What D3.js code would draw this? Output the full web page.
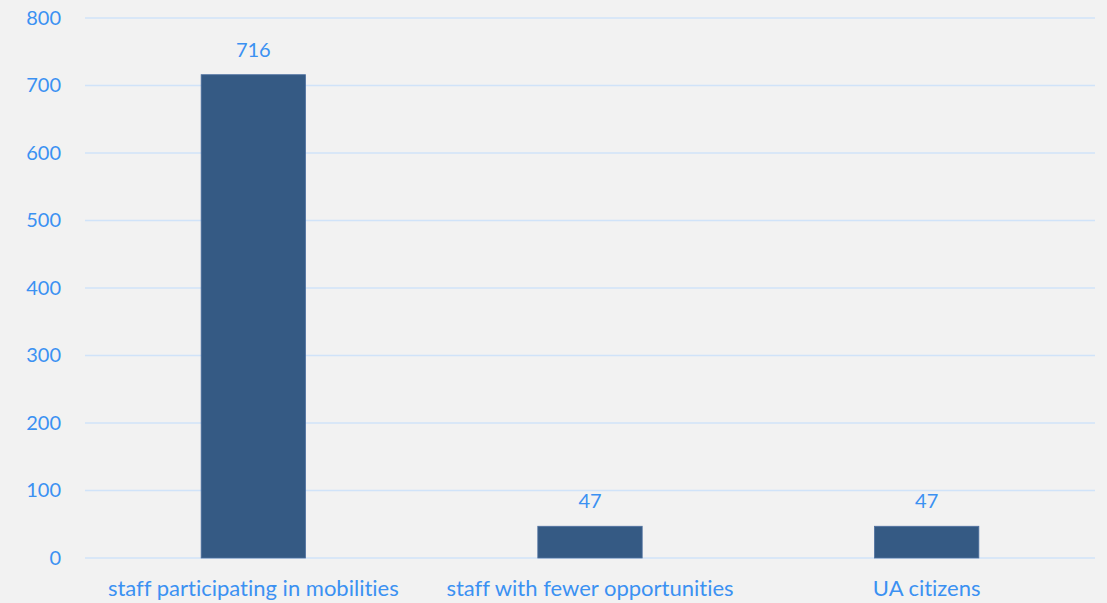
<!DOCTYPE html>
<html><head><meta charset="utf-8">
<script src="https://cdn.jsdelivr.net/npm/d3@7"></script>
<style>
html,body{margin:0;padding:0;background:#f2f2f2;}
svg{display:block;}
text{font-family:Lato,"Open Sans",sans-serif;font-variant-ligatures:none;font-feature-settings:"liga" 0,"clig" 0;}
</style></head>
<body>
<svg id="c" width="1107" height="603"></svg>
<script>
const categories = ["staff participating in mobilities","staff with fewer opportunities","UA citizens"];
const values = [716, 47, 47];
const yTicks = [0,100,200,300,400,500,600,700,800];

const W = 1107, H = 603;
const m = {left:85, right:12, top:18, bottom:45};
const svg = d3.select("#c");
svg.append("rect").attr("width",W).attr("height",H).attr("fill","#f2f2f2");

const x = d3.scaleBand().domain(categories).range([m.left, W-m.right]).padding(0);
const y = d3.scaleLinear().domain([0,800]).range([H-m.bottom, m.top]);
const barFrac = 0.31;
const textColor = "#3b91f2";

const g = svg.append("g");
g.selectAll("line.grid").data(yTicks).enter().append("line")
  .attr("x1", m.left).attr("x2", W-m.right)
  .attr("y1", d=>y(d)).attr("y2", d=>y(d))
  .attr("stroke","#d0e3f9").attr("stroke-width",1.3);

const yAxis = d3.axisLeft(y).tickValues(yTicks).tickSize(0).tickPadding(24);
const ya = svg.append("g").attr("transform",`translate(${m.left},0)`).call(yAxis);
ya.select(".domain").remove();
ya.selectAll("text").attr("fill",textColor).style("font-size","20px").style("font-family","Lato,'Open Sans',sans-serif");

const bw = x.bandwidth()*barFrac;
g.selectAll("rect.bar").data(values).enter().append("rect")
  .attr("x",(d,i)=>x(categories[i])+x.bandwidth()/2-bw/2)
  .attr("width",bw)
  .attr("y",d=>y(d)).attr("height",d=>y(0)-y(d))
  .attr("fill","#355a84").attr("stroke","#4f71a0").attr("stroke-width",0.8);

g.selectAll("text.val").data(values).enter().append("text")
  .attr("x",(d,i)=>x(categories[i])+x.bandwidth()/2)
  .attr("y",d=>y(d)-18)
  .attr("text-anchor","middle").attr("fill",textColor)
  .style("font-size","20px").text(d=>d);

const xAxis = d3.axisBottom(x).tickSize(0).tickPadding(22);
const xa = svg.append("g").attr("transform",`translate(0,${y(0)})`).call(xAxis);
xa.select(".domain").remove();
xa.selectAll("text").attr("fill",textColor).style("font-size","22px").style("font-family","Lato,'Open Sans',sans-serif");
</script>
</body></html>
